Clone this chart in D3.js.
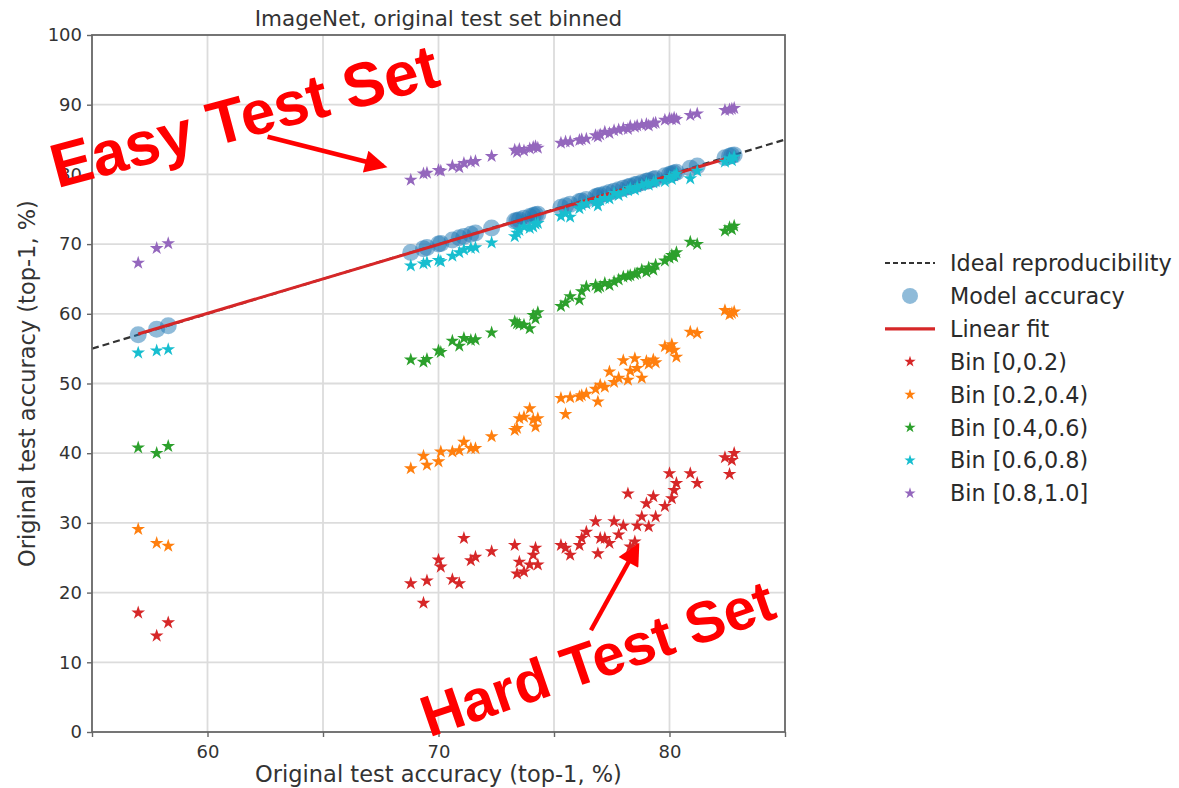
<!DOCTYPE html>
<html>
<head>
<meta charset="utf-8">
<script src="https://cdn.jsdelivr.net/npm/d3@7"></script>
<style>
  body { margin: 0; background: #fff; }
  text { font-family: "DejaVu Sans", sans-serif; fill: #333; }
  .grid line { stroke: #dcdcdc; stroke-width: 1.8; }
  .axis text { font-size: 18px; }
  .axis line, .axis path { stroke: #666; stroke-width: 1.4; }
  .legend-label { font-size: 22.3px; fill: #2a2a2a; }
  .note { font-family: "Liberation Sans", Arial, sans-serif; font-weight: bold; fill: #ff0000; }
</style>
</head>
<body>
<div class="chart"></div>
<script>
// original accuracy of each model (x) -- model accuracy marks sit at (x, x)
const modelAcc = [57.0, 57.8, 58.3,
  68.8, 69.35, 69.5, 70.0, 70.1, 70.6, 70.9, 71.1, 71.4, 71.6, 72.3,
  73.3, 73.4, 73.5, 73.7, 73.95, 74.1, 74.2, 74.3,
  75.3, 75.5, 75.7, 76.1, 76.2, 76.4, 76.8, 76.9, 77.0, 77.2, 77.4, 77.6, 77.8,
  78.0, 78.2, 78.3, 78.5, 78.6, 78.8, 79.0, 79.1, 79.3, 79.4,
  79.8, 80.0, 80.1, 80.2, 80.3, 80.9, 81.2, 82.4, 82.6, 82.7, 82.8];

// accuracy on each difficulty bin, one value per model
const bin00 = [17.1, 13.8, 15.7,
  21.3, 18.5, 21.7, 24.7, 23.7, 21.9, 21.3, 27.8, 24.6, 25.1, 25.9,
  26.8, 22.7, 24.4, 23.0, 24.0, 25.4, 26.4, 24.0,
  26.8, 26.4, 25.4, 26.8, 27.8, 28.7, 30.2, 25.6, 27.8, 27.8, 27.1, 30.2, 28.3,
  29.6, 34.2, 26.6, 27.3, 29.6, 30.9, 32.8, 29.5, 33.8, 30.9,
  32.4, 37.1, 33.5, 34.7, 35.7, 37.1, 35.7, 39.4, 37.0, 39.0, 40.0];
const bin02 = [29.1, 27.1, 26.7,
  37.8, 39.6, 38.3, 38.8, 40.2, 40.2, 40.4, 41.6, 40.7, 40.7, 42.4,
  43.3, 43.6, 45.0, 45.2, 46.4, 44.8, 43.8, 45.0,
  47.9, 45.6, 48.0, 48.1, 48.3, 48.5, 49.2, 47.4, 49.8, 49.5, 51.7, 50.2, 50.8,
  53.3, 50.5, 51.8, 53.6, 52.2, 50.8, 53.2, 52.8, 53.4, 53.0,
  55.3, 55.0, 55.6, 54.8, 53.8, 57.4, 57.2, 60.5, 59.9, 60.1, 60.3];
const bin04 = [40.8, 40.0, 41.0,
  53.4, 53.1, 53.5, 54.7, 54.5, 56.1, 55.4, 56.5, 56.2, 56.3, 57.3,
  58.9, 58.6, 58.5, 58.4, 57.9, 59.8, 59.3, 60.2,
  61.1, 61.6, 62.5, 62.0, 63.2, 63.9, 64.1, 63.7, 63.9, 64.4, 64.1, 64.6, 64.9,
  65.3, 65.4, 65.5, 65.7, 65.8, 66.3, 66.0, 66.6, 66.3, 67.0,
  67.6, 68.0, 68.4, 68.2, 68.8, 70.3, 70.0, 71.9, 72.4, 72.1, 72.6];
const bin06 = [54.4, 54.7, 54.9,
  66.9, 67.2, 67.4, 67.7, 67.5, 68.3, 68.8, 69.2, 69.4, 69.5, 70.2,
  71.1, 71.6, 72.0, 72.5, 72.3, 72.5, 72.9, 73.0,
  74.0, 74.4, 73.9, 75.1, 75.6, 75.8, 76.0, 75.5, 76.3, 76.6, 76.5, 77.3, 77.0,
  77.4, 77.7, 78.0, 77.8, 78.2, 78.4, 78.7, 78.5, 78.8, 79.0,
  79.0, 79.6, 79.3, 79.8, 80.1, 79.4, 80.5, 81.8, 82.3, 82.0, 82.5];
const bin08 = [67.3, 69.4, 70.1,
  79.2, 80.1, 80.2, 80.6, 80.5, 81.2, 81.0, 81.6, 81.8, 81.9, 82.6,
  83.5, 83.2, 83.6, 83.4, 83.7, 83.9, 84.0, 83.8,
  84.5, 84.7, 84.7, 84.9, 85.0, 85.1, 85.6, 85.4, 85.7, 86.1, 85.9, 86.3, 86.4,
  86.6, 86.5, 86.9, 86.8, 87.0, 87.1, 87.2, 87.0, 87.3, 87.4,
  87.8, 88.0, 87.9, 88.1, 87.9, 88.5, 88.7, 89.2, 89.3, 89.4, 89.5];

const binNames = ['Bin [0,0.2)', 'Bin [0.2,0.4)', 'Bin [0.4,0.6)', 'Bin [0.6,0.8)', 'Bin [0.8,1.0]'];
const binColors = ['#d62728', '#ff7f0e', '#2ca02c', '#17becf', '#9467bd'];
const binValues = [bin00, bin02, bin04, bin06, bin08];

// linear fit end points and the y = x reference
const fitX = [57.0, 82.8];
const fitY = [57.1, 82.6];
const idealX = [55, 85];

const xTicks = [55, 60, 65, 70, 75, 80, 85];
const xTickLabels = [60, 70, 80];
const yTicks = [0, 10, 20, 30, 40, 50, 60, 70, 80, 90, 100];

const margin = {left: 92, top: 35};
const width = 693;
const height = 697;

const svg = d3.select(".chart")
  .append("svg")
    .attr("width", 1179)
    .attr("height", 788);

const chart = svg.append("g")
  .attr("transform", `translate(${margin.left},${margin.top})`);

const x = d3.scaleLinear().domain([55, 85]).range([0, width]);
const y = d3.scaleLinear().domain([0, 100]).range([height, 0]);

// grid
chart.append("g").attr("class", "grid")
  .selectAll("line").data(xTicks.slice(1, -1)).enter().append("line")
    .attr("x1", d => x(d)).attr("x2", d => x(d))
    .attr("y1", 0).attr("y2", height);
chart.append("g").attr("class", "grid")
  .selectAll("line").data(yTicks.slice(1, -1)).enter().append("line")
    .attr("y1", d => y(d)).attr("y2", d => y(d))
    .attr("x1", 0).attr("x2", width);

// axes
const xAxis = chart.append("g").attr("class", "axis")
  .attr("transform", `translate(0,${height})`)
  .call(d3.axisBottom(x).tickValues(xTicks).tickSize(5).tickPadding(8)
    .tickFormat(d => xTickLabels.includes(d) ? d : ""));
xAxis.select(".domain").remove();

const yAxis = chart.append("g").attr("class", "axis")
  .call(d3.axisLeft(y).tickValues(yTicks).tickSize(5).tickPadding(5));
yAxis.select(".domain").remove();

// plot content, clipped to the axes box
svg.append("clipPath").attr("id", "plotclip")
  .append("rect").attr("width", width).attr("height", height);
const plot = chart.append("g").attr("clip-path", "url(#plotclip)");

const line = d3.line().x(d => x(d[0])).y(d => y(d[1]));

plot.append("path")
  .datum(idealX.map(v => [v, v]))
  .attr("d", line)
  .attr("fill", "none")
  .attr("stroke", "#333")
  .attr("stroke-width", 2.2)
  .attr("stroke-dasharray", "7,4");

plot.append("g").selectAll("circle")
  .data(modelAcc).enter().append("circle")
    .attr("cx", d => x(d))
    .attr("cy", d => y(d))
    .attr("r", 8.5)
    .attr("fill", "#1f77b4")
    .attr("fill-opacity", 0.5);

plot.append("path")
  .datum(fitX.map((v, i) => [v, fitY[i]]))
  .attr("d", line)
  .attr("fill", "none")
  .attr("stroke", "#d62728")
  .attr("stroke-width", 3);

const star = d3.symbol().type(d3.symbolStar).size(58);

binValues.forEach((vals, b) => {
  plot.append("g").selectAll("path")
    .data(vals).enter().append("path")
      .attr("d", star)
      .attr("transform", (d, i) => `translate(${x(modelAcc[i])},${y(d)})`)
      .attr("fill", binColors[b]);
});

// axes box
chart.append("rect")
  .attr("width", width).attr("height", height)
  .attr("fill", "none").attr("stroke", "#666").attr("stroke-width", 1.8);

// title and axis labels
svg.append("text")
  .attr("x", margin.left + width / 2).attr("y", 26)
  .attr("text-anchor", "middle").style("font-size", "21.5px")
  .text("ImageNet, original test set binned");
svg.append("text")
  .attr("x", margin.left + width / 2).attr("y", 782)
  .attr("text-anchor", "middle").style("font-size", "22.5px")
  .text("Original test accuracy (top-1, %)");
svg.append("text")
  .attr("transform", `translate(35,${margin.top + height / 2}) rotate(-90)`)
  .attr("text-anchor", "middle").style("font-size", "22.5px")
  .text("Original test accuracy (top-1, %)");

// legend
const legend = svg.append("g").attr("transform", "translate(885,263)");
const rowH = 32.9;
legend.append("line")
  .attr("x1", 0).attr("x2", 50).attr("y1", 0).attr("y2", 0)
  .attr("stroke", "#333").attr("stroke-width", 2.2).attr("stroke-dasharray", "5,3");
legend.append("circle")
  .attr("cx", 25).attr("cy", rowH).attr("r", 8)
  .attr("fill", "#1f77b4").attr("fill-opacity", 0.5);
legend.append("line")
  .attr("x1", 0).attr("x2", 50).attr("y1", rowH * 2).attr("y2", rowH * 2)
  .attr("stroke", "#d62728").attr("stroke-width", 3.2);
legend.selectAll(".legend-star")
  .data(binNames).enter().append("path")
    .attr("class", "legend-star")
    .attr("d", d3.symbol().type(d3.symbolStar).size(40))
    .attr("transform", (d, i) => `translate(25,${rowH * (i + 3)})`)
    .attr("fill", (d, i) => binColors[i]);
legend.selectAll(".legend-label")
  .data(['Ideal reproducibility', 'Model accuracy', 'Linear fit'].concat(binNames))
  .enter().append("text")
    .attr("class", "legend-label")
    .attr("x", 65)
    .attr("y", (d, i) => rowH * i + 8)
    .text(d => d);

// red annotations
svg.append("defs").append("marker")
  .attr("id", "arrowhead")
  .attr("viewBox", "0 0 10 10")
  .attr("refX", 8).attr("refY", 5)
  .attr("markerWidth", 5.5).attr("markerHeight", 5)
  .attr("orient", "auto")
  .append("path").attr("d", "M0,0 L10,5 L0,10 Z").attr("fill", "#ff0000");

const notes = chart.append("g");
notes.append("line")
  .attr("x1", x(62.6)).attr("y1", y(85.4))
  .attr("x2", x(67.6)).attr("y2", y(81.2))
  .attr("stroke", "#ff0000").attr("stroke-width", 4.5)
  .attr("marker-end", "url(#arrowhead)");
notes.append("line")
  .attr("x1", x(76.6)).attr("y1", y(14.6))
  .attr("x2", x(78.6)).attr("y2", y(26.6))
  .attr("stroke", "#ff0000").attr("stroke-width", 4.5)
  .attr("marker-end", "url(#arrowhead)");
notes.append("text")
  .attr("class", "note")
  .attr("transform", `translate(${x(53.5)},${y(78.0)}) rotate(-15)`)
  .style("font-size", "62px")
  .text("Easy Test Set");
notes.append("text")
  .attr("class", "note")
  .attr("transform", `translate(${x(69.6)},${y(-0.8)}) rotate(-19)`)
  .style("font-size", "58px")
  .text("Hard Test Set");
</script>
</body>
</html>
